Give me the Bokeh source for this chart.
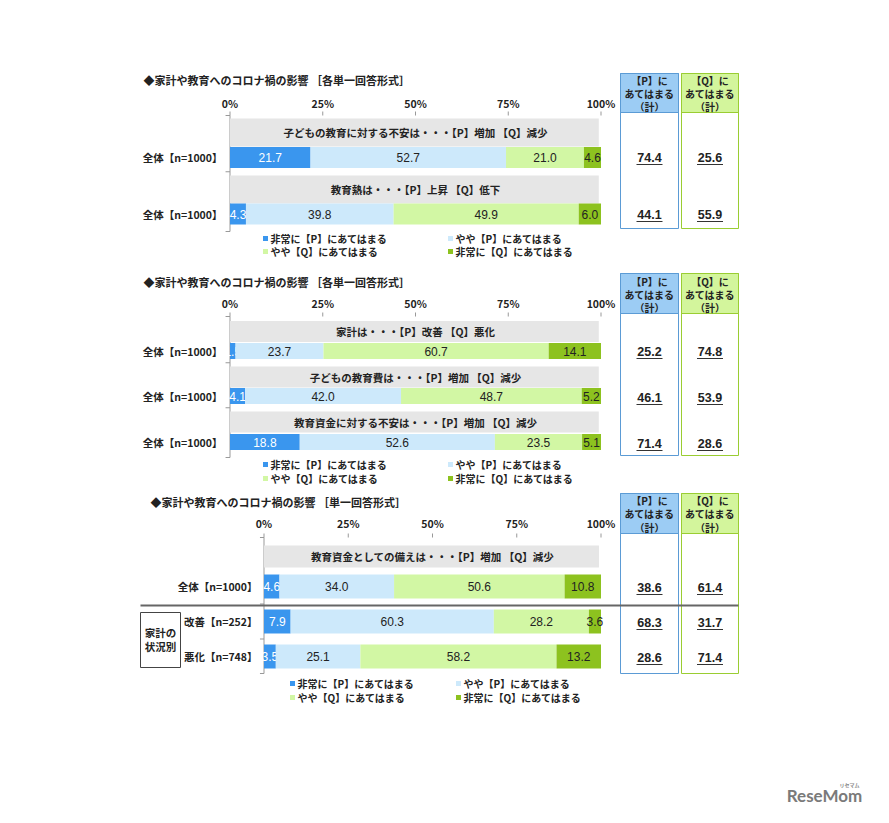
from bokeh.plotting import figure
from bokeh.models import Range1d
from bokeh.core.properties import value
from bokeh.embed import file_html
from bokeh.resources import INLINE

# ---------------- data ----------------
series_names = ["非常に【P】にあてはまる", "やや【P】にあてはまる",
                "やや【Q】にあてはまる", "非常に【Q】にあてはまる"]
series_colors = ["#3A96EE", "#CDE9FB", "#D2F7A4", "#8DC21F"]
label_colors = ["#FFFFFF", "#222222", "#222222", "#222222"]
tick_values = [0, 25, 50, 75, 100]
tick_labels = ["0%", "25%", "50%", "75%", "100%"]
box_header_p = ["【P】に", "あてはまる", "（計）"]
box_header_q = ["【Q】に", "あてはまる", "（計）"]

s1_title = "◆家計や教育へのコロナ禍の影響 ［各単一回答形式］"
s1_questions = ["子どもの教育に対する不安は・・・【P】増加 【Q】減少",
                "教育熱は・・・【P】上昇 【Q】低下"]
s1_rows = ["全体【n=1000】", "全体【n=1000】"]
s1_very_p = [21.7, 4.3]
s1_some_p = [52.7, 39.8]
s1_some_q = [21.0, 49.9]
s1_very_q = [4.6, 6.0]
s1_total_p = ["74.4", "44.1"]
s1_total_q = ["25.6", "55.9"]

s2_title = "◆家計や教育へのコロナ禍の影響 ［各単一回答形式］"
s2_questions = ["家計は・・・【P】改善 【Q】悪化",
                "子どもの教育費は・・・【P】増加 【Q】減少",
                "教育資金に対する不安は・・・【P】増加 【Q】減少"]
s2_rows = ["全体【n=1000】", "全体【n=1000】", "全体【n=1000】"]
s2_very_p = [1.5, 4.1, 18.8]
s2_some_p = [23.7, 42.0, 52.6]
s2_some_q = [60.7, 48.7, 23.5]
s2_very_q = [14.1, 5.2, 5.1]
s2_total_p = ["25.2", "46.1", "71.4"]
s2_total_q = ["74.8", "53.9", "28.6"]

s3_title = "◆家計や教育へのコロナ禍の影響 ［単一回答形式］"
s3_questions = ["教育資金としての備えは・・・【P】増加 【Q】減少", None, None]
s3_rows = ["全体【n=1000】", "改善【n=252】", "悪化【n=748】"]
s3_group_label = ["家計の", "状況別"]
s3_very_p = [4.6, 7.9, 3.5]
s3_some_p = [34.0, 60.3, 25.1]
s3_some_q = [50.6, 28.2, 58.2]
s3_very_q = [10.8, 3.6, 13.2]
s3_total_p = ["38.6", "68.3", "28.6"]
s3_total_q = ["61.4", "31.7", "71.4"]

logo_text = "ReseMom"
logo_kana = "リセマム"

# ---------------- figure ----------------
W, H = 873, 807
OX, OY = 0, 0
JP = value("Noto Sans CJK JP")
NUM = value("Liberation Sans")
DARK = "#222222"

p = figure(width=W, height=H, x_range=Range1d(OX, OX + W), y_range=Range1d(OY + H, OY),
           output_backend="svg", toolbar_location=None, min_border=0,
           x_axis_location=None, y_axis_location=None)
p.grid.visible = False
p.outline_line_color = None
p.background_fill_color = "white"


def pct_range(px0, px100):
    s = (px100 - px0) / 100.0
    return Range1d((OX - px0) / s, (OX + W - px0) / s)


p.extra_x_ranges = {"pA": pct_range(229.5, 600.5), "pB": pct_range(263.5, 600.5)}


def txt(x, y, t, size="10.5px", align="left", color=DARK, font=JP, style="bold", rng="default"):
    p.text(x=x, y=y, text=t, text_align=align, text_baseline="middle",
           text_font=font, text_font_size=size, text_font_style=style,
           text_color=color, x_range_name=rng)


def section(L, title, questions, rows, very_p, some_p, some_q, very_q, tot_p, tot_q):
    rng = L["rng"]
    # title
    txt([L["title_x"]], [L["title_y"]], [title], size="11px")
    # tick labels
    txt(tick_values, [L["axis_y"]] * len(tick_values), tick_labels, size="10.5px",
        align="center", rng=rng)
    # top ticks
    p.segment(x0=tick_values, x1=tick_values, y0=[L["axis_top"] - 4] * 5,
              y1=[L["axis_top"]] * 5, line_color="#999999", line_width=1, x_range_name=rng)
    # left axis
    p.segment(x0=[0], x1=[0], y0=[L["axis_top"]], y1=[L["axis_bottom"]],
              line_color="#999999", line_width=1, x_range_name=rng)
    # gray headers
    hy = [L["header_y"][i] for i, q in enumerate(questions) if q]
    hq = [q for q in questions if q]
    p.hbar(y=hy, height=L["header_h"], left=0, right=99.4, fill_color="#E6E6E6",
           line_color=None, x_range_name=rng)
    txt([50] * len(hq), hy, hq, size="10.5px", align="center", rng=rng)
    # left ticks between rows
    n = len(rows)
    ticks = [L["axis_top"]]
    for i in range(n - 1):
        bot = L["bar_y"][i] + L["bar_h"] / 2
        nxt = (L["header_y"][i + 1] - L["header_h"] / 2) if questions[i + 1] else (L["bar_y"][i + 1] - L["bar_h"] / 2)
        ticks.append((bot + nxt) / 2)
    ticks.append(L["axis_bottom"])
    p.segment(x0=[-1.2] * len(ticks), x1=[0] * len(ticks), y0=ticks, y1=ticks,
              line_color="#999999", line_width=1, x_range_name=rng)
    # stacked bars
    segs = [very_p, some_p, some_q, very_q]
    left = [0.0] * n
    for k, vals in enumerate(segs):
        right = [left[i] + vals[i] for i in range(n)]
        p.hbar(y=L["bar_y"], height=L["bar_h"], left=left, right=right,
               fill_color=series_colors[k], line_color=None, x_range_name=rng)
        mids = [(left[i] + right[i]) / 2 for i in range(n)]
        txt(mids, L["bar_y"], ["%.1f" % v for v in vals], size="12px", align="center",
            color=label_colors[k], font=NUM, style="normal", rng=rng)
        left = right
    # row labels
    txt([L["label_x"]] * n, L["bar_y"], rows, size="10.5px", align="right")
    # legend
    lx, ly = L["legend_x"], L["legend_y"]
    pos = [(lx[0], ly[0]), (lx[1], ly[0]), (lx[0], ly[1]), (lx[1], ly[1])]
    for k, (x, y) in enumerate(pos):
        p.rect(x=[x], y=[y], width=5, height=5, fill_color=series_colors[k], line_color=None)
        txt([x + 5], [y], [series_names[k]], size="10px")
    # side boxes
    for (bx0, bx1, head_fill, border, heads, vals) in [
            (620, 678, "#9CCCF4", "#5B9BD5", box_header_p, tot_p),
            (681, 738, "#D3F59C", "#9ACD32", box_header_q, tot_q)]:
        p.quad(left=[bx0], right=[bx1], top=[L["box_top"]], bottom=[L["box_bottom"]],
               fill_color="white", line_color=border, line_width=1)
        p.quad(left=[bx0], right=[bx1], top=[L["box_top"]], bottom=[L["box_head"]],
               fill_color=head_fill, line_color=border, line_width=1)
        cx = (bx0 + bx1) / 2
        txt([cx] * 3, L["box_text_y"], heads, size="10px", align="center")
        txt([cx] * len(vals), L["value_y"], vals, size="12.5px", align="center",
            font=NUM, style="bold")
        p.segment(x0=[cx - 13] * len(vals), x1=[cx + 13] * len(vals),
                  y0=[y + 7 for y in L["value_y"]], y1=[y + 7 for y in L["value_y"]],
                  line_color="#333333", line_width=1)


L1 = dict(rng="pA", title_x=143, title_y=79, axis_y=103, axis_top=115, axis_bottom=231,
          header_y=[132, 189], header_h=28, bar_y=[157, 213.5], bar_h=21, label_x=222,
          legend_x=[265, 450], legend_y=[238, 251],
          box_top=73, box_head=112, box_bottom=228, box_text_y=[80, 93, 106], value_y=[157, 214])
L2 = dict(rng="pA", title_x=143, title_y=281, axis_y=303, axis_top=316, axis_bottom=457,
          header_y=[331, 376.5, 421.5], header_h=21, bar_y=[350.5, 395.5, 441.5], bar_h=16,
          label_x=222, legend_x=[265, 450], legend_y=[464, 478],
          box_top=273, box_head=313, box_bottom=455, box_text_y=[281, 294, 307],
          value_y=[351, 397, 443])
L3 = dict(rng="pB", title_x=150, title_y=501, axis_y=523, axis_top=537, axis_bottom=673,
          header_y=[556, 0, 0], header_h=22, bar_y=[586, 621, 656], bar_h=24, label_x=257,
          legend_x=[292, 458], legend_y=[683, 697],
          box_top=493, box_head=533, box_bottom=673, box_text_y=[500, 513, 527],
          value_y=[587, 622, 657])

section(L1, s1_title, s1_questions, s1_rows, s1_very_p, s1_some_p, s1_some_q, s1_very_q,
        s1_total_p, s1_total_q)
section(L2, s2_title, s2_questions, s2_rows, s2_very_p, s2_some_p, s2_some_q, s2_very_q,
        s2_total_p, s2_total_q)
section(L3, s3_title, s3_questions, s3_rows, s3_very_p, s3_some_p, s3_some_q, s3_very_q,
        s3_total_p, s3_total_q)

# separator and group box in section 3
p.segment(x0=[140], x1=[738], y0=[605], y1=[605], line_color="#666666", line_width=2)
p.quad(left=[140], right=[180], top=[612], bottom=[667], fill_color="white",
       line_color="#444444", line_width=1)
txt([160, 160], [632, 646], s3_group_label, size="10.5px", align="center")

# logo
txt([824], [795], [logo_text], size="17px", align="center", color="#7A7A7A",
    font=value("Lato"), style="bold")
txt([849], [784], [logo_kana], size="5px", align="center", color="#8A8A8A")

open("out.html", "w").write(file_html(p, INLINE))
